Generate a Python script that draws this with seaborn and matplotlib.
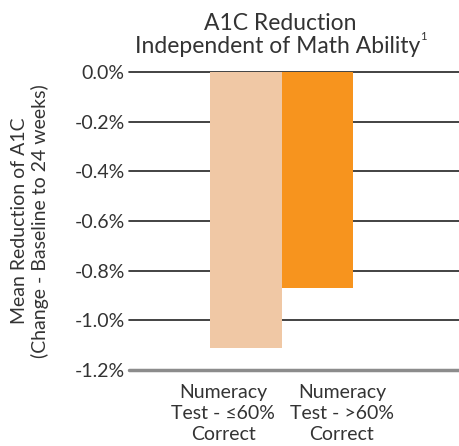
import pandas as pd
import seaborn as sns
import matplotlib.pyplot as plt

# ---------------------------
# Data
# ---------------------------
groups = ['low', 'high']
reduction = [-1.11, -0.87]
bar_colors = ['#F0C8A5', '#F7941E']
tick_labels = ['Numeracy\nTest - \u226460%\nCorrect', 'Numeracy\nTest - >60%\nCorrect']
y_ticks = [0.0, -0.2, -0.4, -0.6, -0.8, -1.0, -1.2]

df = pd.DataFrame({'group': groups, 'reduction': reduction})

# ---------------------------
# Plot
# ---------------------------
sns.set_style('white')
plt.rcParams['font.family'] = ['Lato', 'DejaVu Sans']

fig = plt.figure(figsize=(4.59, 4.46), dpi=100)
ax = fig.add_axes([0.281, 0.1704, 0.719, 0.6682])

sns.barplot(data=df, x='group', y='reduction', hue='group', palette=bar_colors,
            width=1.0, saturation=1, linewidth=0, legend=False, ax=ax, zorder=2)

ax.set_ylim(-1.2, 0.0)
ax.set_xlim(-1.64, 2.98)
for y in y_ticks:
    if y == -1.2:
        ax.axhline(y, color='#8c8c8c', lw=2.5, zorder=3, clip_on=False)
    else:
        ax.axhline(y, color='#222222', lw=1.2, zorder=0, clip_on=False)

ax.set_yticks(y_ticks)
ax.set_yticklabels([f'{v:.1f}%' for v in y_ticks], fontsize=14, color='#333333')
ax.set_xticks([-0.32, 1.34])
ax.set_xticklabels(tick_labels, fontsize=14, color='#333333', linespacing=1.3)
ax.tick_params(axis='both', length=0, pad=3)
ax.tick_params(axis='x', pad=10)
ax.set_xlabel('')
ax.set_ylabel('Mean Reduction of A1C\n(Change - Baseline to 24 weeks)', fontsize=14,
              color='#333333', labelpad=18, linespacing=1.2)
for s in ax.spines.values():
    s.set_visible(False)

fig.text(0.61, 0.933, 'A1C Reduction', ha='center', va='baseline',
         fontsize=16.5, color='#333333')
line2 = fig.text(0.605, 0.881, 'Independent of Math Ability', ha='center', va='baseline',
                 fontsize=16.5, color='#333333')
# small superscript footnote marker right after the second title line
ax.annotate('1', xy=(1, 1), xycoords=line2, xytext=(0, 4), textcoords='offset points',
            ha='left', va='top', fontsize=8, color='#333333')

plt.savefig('out.png', dpi=100)
